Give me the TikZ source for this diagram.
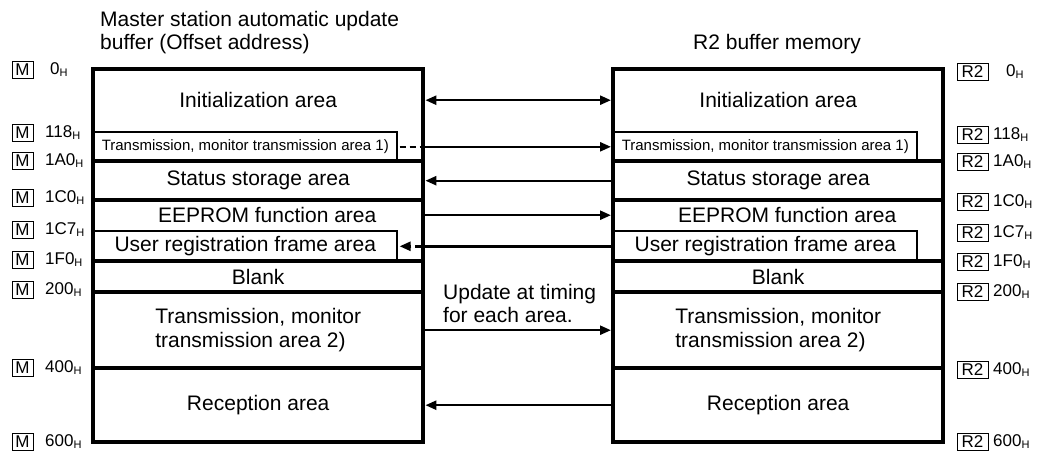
\documentclass[tikz,border=0pt]{standalone}
\usepackage{fontspec}
\setmainfont{Liberation Sans}
\usetikzlibrary{arrows.meta}
\newcommand{\hexaddr}[1]{#1\raisebox{-2pt}{\fontsize{11}{11}\selectfont H}}
\tikzset{
 area/.style={anchor=north west, inner sep=0pt, minimum width=330pt, align=center, font=\fontsize{21}{24}\selectfont},
 subarea/.style={area, draw, line width=1.6pt, minimum width=303pt},
 frame/.style={line width=4pt},
 flow/.style={line width=2.4pt, shorten >=2pt, shorten <=2pt, >={Triangle[length=11pt,width=9pt]}},
 dashline/.style={dash pattern=on 6pt off 4pt},
 head/.style={inner sep=0pt, align=left, font=\fontsize{21}{23}\selectfont},
 mtag/.style={draw, line width=1pt, inner sep=0pt, minimum width=21pt, minimum height=17pt, font=\fontsize{17}{17}\selectfont},
 rtag/.style={mtag, minimum width=31pt},
 addr/.style={anchor=west, inner sep=0pt, font=\fontsize{17}{17}\selectfont},
}

\begin{document}
\begin{tikzpicture}[x=1pt,y=-1pt]
 \useasboundingbox (0,0) rectangle (1046,452);
 \node[head, anchor=base west] (titL) at (100,49) {Master station automatic update\\buffer (Offset address)};
 \node[head, anchor=base] (titR) at (777,49) {R2 buffer memory};
 % master station side
 \node[area, minimum height=62pt] (iniL) at (93,69) {Initialization area};
 \node[subarea, minimum height=30pt, font=\fontsize{15}{15}\selectfont] (tr1L) at (93,131) {Transmission, monitor transmission area 1)};
 \node[area, minimum height=39pt] (statL) at (93,161) {Status storage area};
 \node[area, minimum height=30pt] (eepL) at (93,200) {\hspace{18pt}EEPROM function area};
 \node[subarea, minimum height=31pt] (userL) at (93,230) {User registration frame area};
 \node[area, minimum height=31pt] (blankL) at (93,261) {Blank};
 \node[area, minimum height=76pt, align=left] (tr2L) at (93,292) {Transmission, monitor\\transmission area 2)};
 \node[area, minimum height=74pt] (recL) at (93,368) {Reception area};
 \draw[frame] (iniL.north west) rectangle (recL.south east);
 \draw[frame] (statL.north west) -- (statL.north east);
 \draw[frame] (eepL.north west) -- (eepL.north east);
 \draw[frame] (blankL.north west) -- (blankL.north east);
 \draw[frame] (tr2L.north west) -- (tr2L.north east);
 \draw[frame] (recL.north west) -- (recL.north east);
 % R2 side
 \node[area, minimum height=62pt] (iniR) at (613,69) {Initialization area};
 \node[subarea, minimum height=30pt, font=\fontsize{15}{15}\selectfont] (tr1R) at (613,131) {Transmission, monitor transmission area 1)};
 \node[area, minimum height=39pt] (statR) at (613,161) {Status storage area};
 \node[area, minimum height=30pt] (eepR) at (613,200) {\hspace{18pt}EEPROM function area};
 \node[subarea, minimum height=31pt] (userR) at (613,230) {User registration frame area};
 \node[area, minimum height=31pt] (blankR) at (613,261) {Blank};
 \node[area, minimum height=76pt, align=left] (tr2R) at (613,292) {Transmission, monitor\\transmission area 2)};
 \node[area, minimum height=74pt] (recR) at (613,368) {Reception area};
 \draw[frame] (iniR.north west) rectangle (recR.south east);
 \draw[frame] (statR.north west) -- (statR.north east);
 \draw[frame] (eepR.north west) -- (eepR.north east);
 \draw[frame] (blankR.north west) -- (blankR.north east);
 \draw[frame] (tr2R.north west) -- (tr2R.north east);
 \draw[frame] (recR.north west) -- (recR.north east);
 % update arrows
 \coordinate (tr1Edge) at (tr1L.east -| iniL.east);
 \coordinate (userEdge) at (userL.east -| iniL.east);
 \draw[flow,<->] (iniL.east) -- (iniR.west);
 \draw[flow,dashline] (tr1L.east) -- (tr1Edge);
 \draw[flow,->] (tr1Edge) -- (tr1R.west);
 \draw[flow,->] (statR.west) -- (statL.east);
 \draw[flow,->] (eepL.east) -- (eepR.west);
 \draw[flow] (userR.west) -- (userEdge);
 \draw[flow,dashline,->] (userEdge) -- (userL.east);
 \draw[flow,->] (tr2L.east) -- (tr2R.west);
 \draw[flow,->] (recR.west) -- (recL.east);
 \node[head, anchor=base west] (upd) at (443,322) {Update at timing\\for each area.};
 % offset addresses
 \node[mtag] (m0) at (22.5,70) {M};
 \node[addr] (a0) at (50,70) {\hexaddr{0}};
 \node[mtag] (m118) at (22.5,133) {M};
 \node[addr] (a118) at (45,133) {\hexaddr{118}};
 \node[mtag] (m1A0) at (22.5,161) {M};
 \node[addr] (a1A0) at (45,161) {\hexaddr{1A0}};
 \node[mtag] (m1C0) at (22.5,198) {M};
 \node[addr] (a1C0) at (45,198) {\hexaddr{1C0}};
 \node[mtag] (m1C7) at (22.5,230) {M};
 \node[addr] (a1C7) at (45,230) {\hexaddr{1C7}};
 \node[mtag] (m1F0) at (22.5,260) {M};
 \node[addr] (a1F0) at (45,260) {\hexaddr{1F0}};
 \node[mtag] (m200) at (22.5,290) {M};
 \node[addr] (a200) at (45,290) {\hexaddr{200}};
 \node[mtag] (m400) at (22.5,368) {M};
 \node[addr] (a400) at (45,368) {\hexaddr{400}};
 \node[mtag] (m600) at (22.5,442) {M};
 \node[addr] (a600) at (45,442) {\hexaddr{600}};
 % R2 addresses
 \node[rtag] (r0) at (972.5,72) {R2};
 \node[addr] (b0) at (1006,72) {\hexaddr{0}};
 \node[rtag] (r118) at (972.5,135) {R2};
 \node[addr] (b118) at (993,135) {\hexaddr{118}};
 \node[rtag] (r1A0) at (972.5,162) {R2};
 \node[addr] (b1A0) at (993,162) {\hexaddr{1A0}};
 \node[rtag] (r1C0) at (972.5,202) {R2};
 \node[addr] (b1C0) at (993,202) {\hexaddr{1C0}};
 \node[rtag] (r1C7) at (972.5,233) {R2};
 \node[addr] (b1C7) at (993,233) {\hexaddr{1C7}};
 \node[rtag] (r1F0) at (972.5,262) {R2};
 \node[addr] (b1F0) at (993,262) {\hexaddr{1F0}};
 \node[rtag] (r200) at (972.5,292) {R2};
 \node[addr] (b200) at (993,292) {\hexaddr{200}};
 \node[rtag] (r400) at (972.5,370) {R2};
 \node[addr] (b400) at (993,370) {\hexaddr{400}};
 \node[rtag] (r600) at (972.5,442) {R2};
 \node[addr] (b600) at (993,442) {\hexaddr{600}};
\end{tikzpicture}
\end{document}
